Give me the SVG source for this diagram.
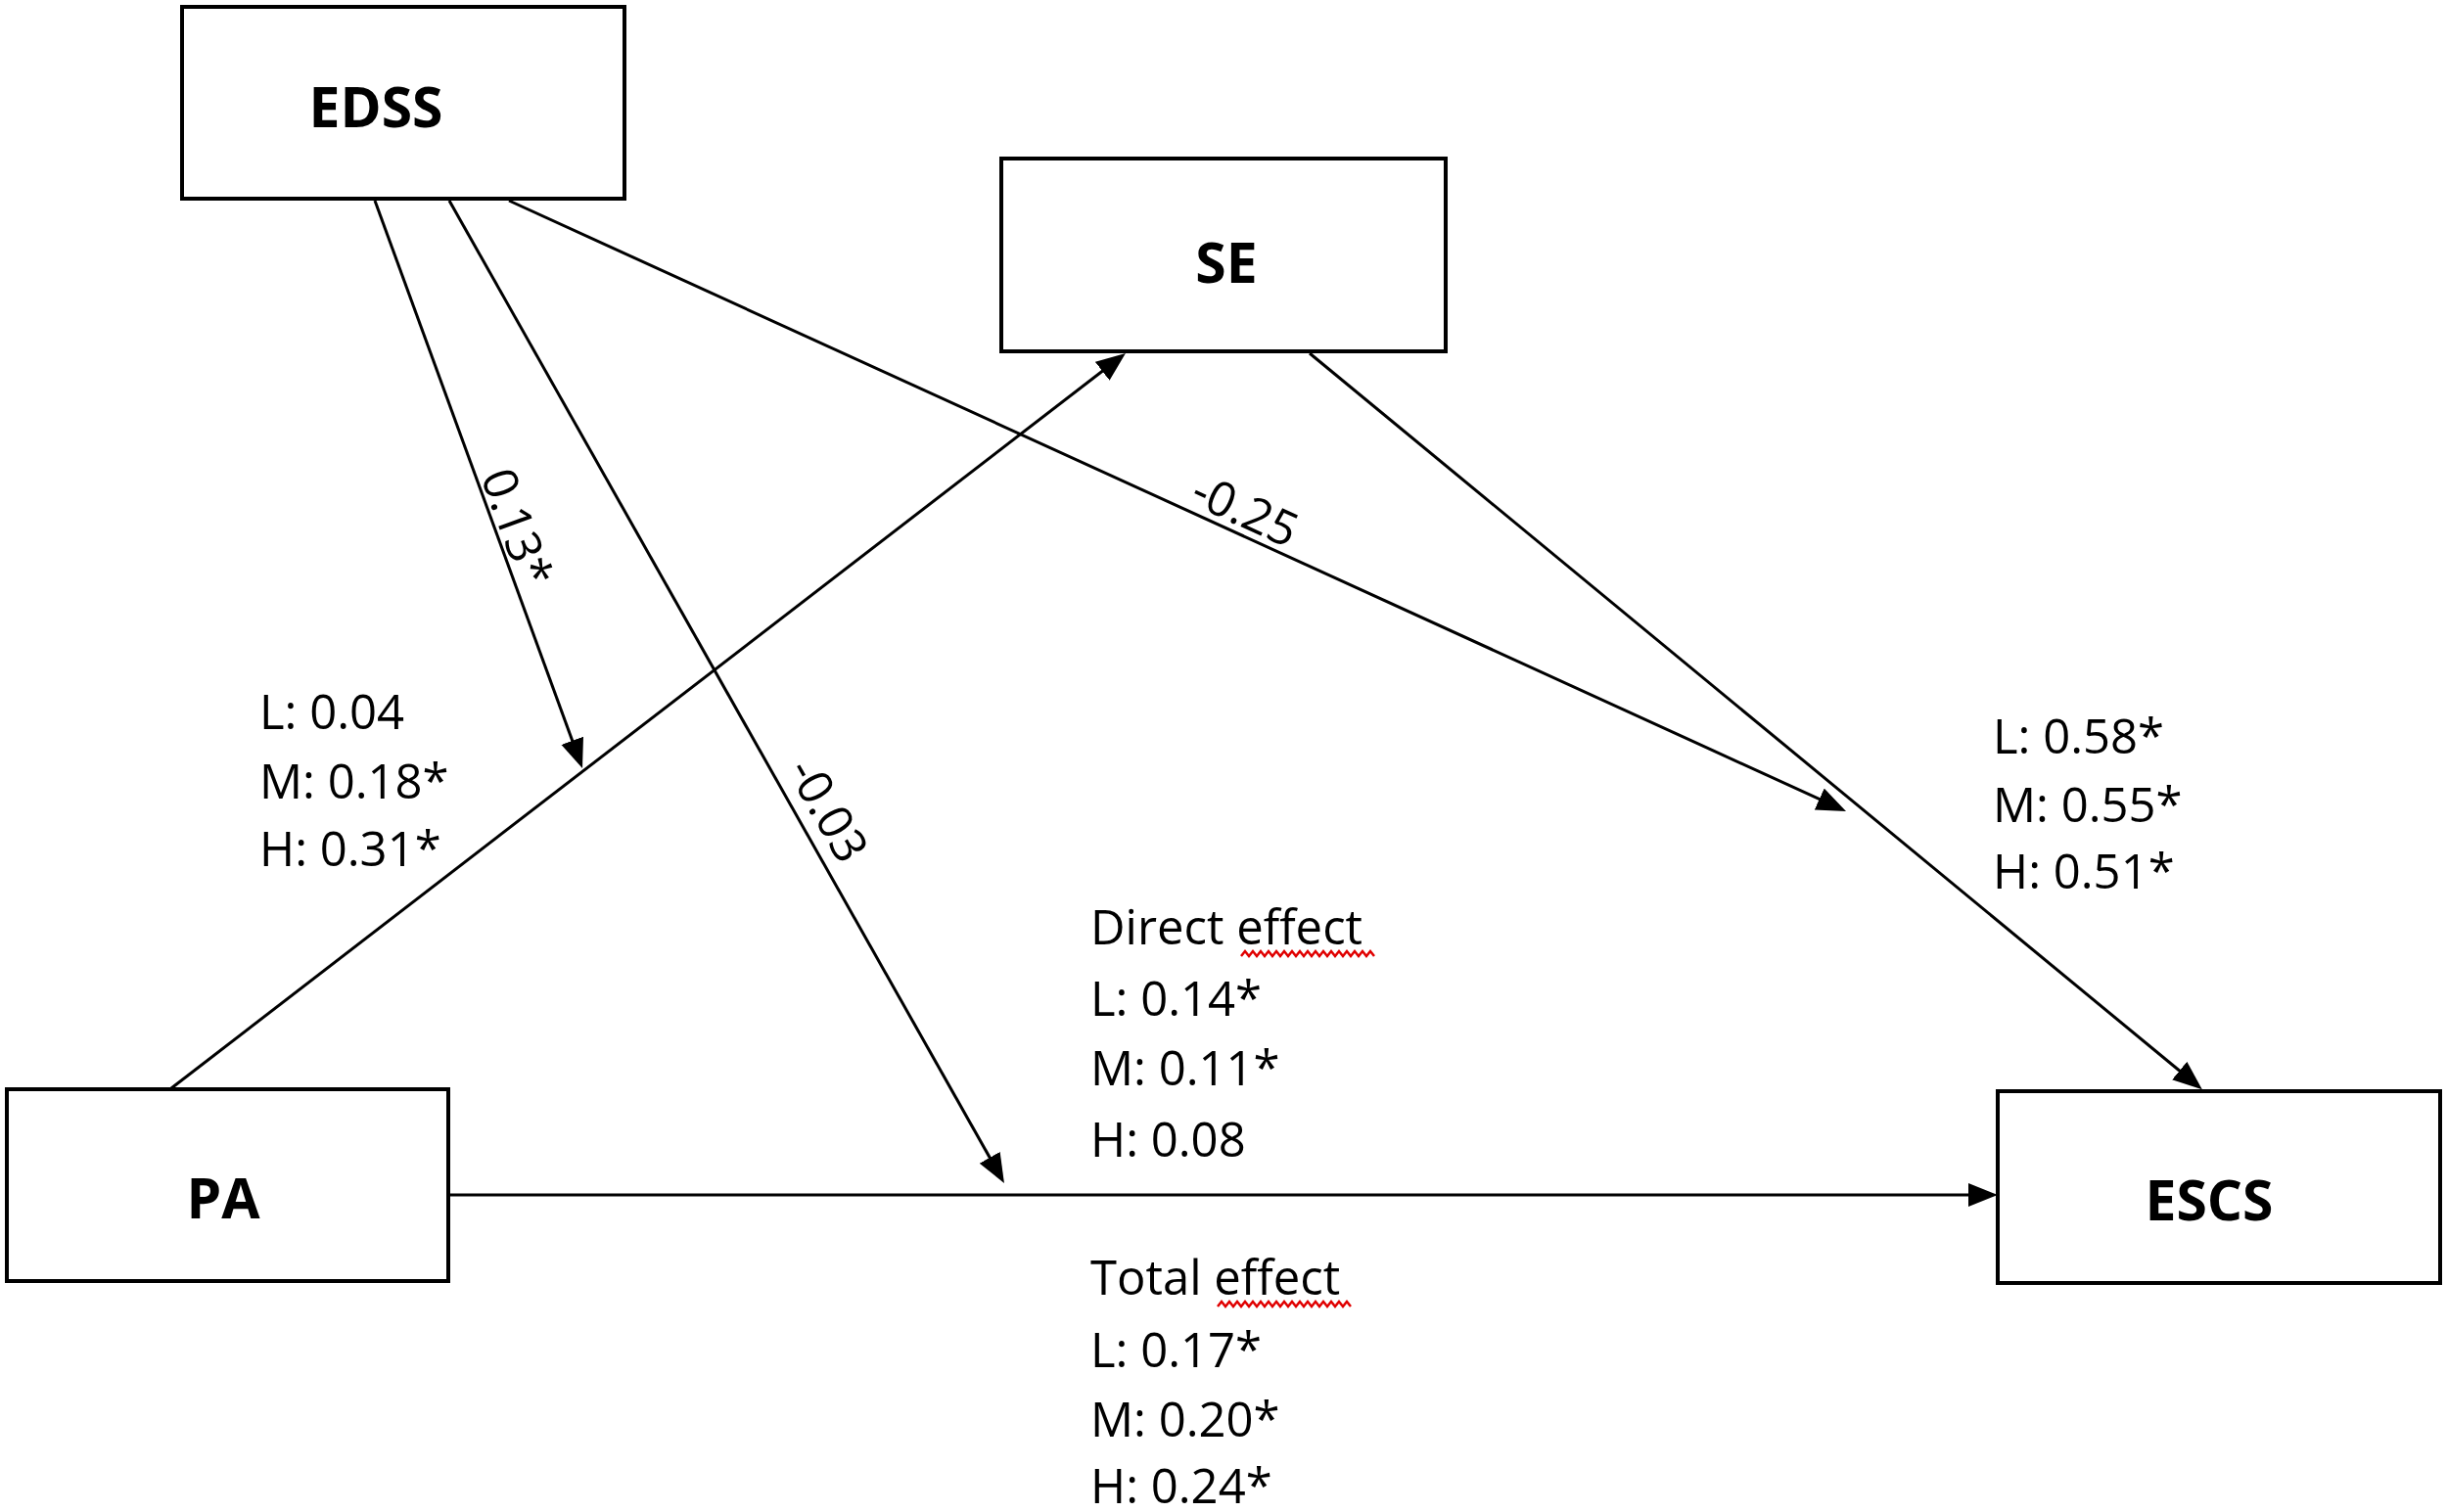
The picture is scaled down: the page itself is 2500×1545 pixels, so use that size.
<svg xmlns="http://www.w3.org/2000/svg" width="2500" height="1545" viewBox="0 0 2500 1545">
<style>
.box{fill:#fff;stroke:#000;stroke-width:4}
.nt{font-family:"Open Sans","Liberation Sans",sans-serif;font-weight:bold;font-size:57px;fill:#000;text-anchor:middle}
.lb{font-family:"Open Sans","Liberation Sans",sans-serif;font-size:49px;fill:#000}
.cn{stroke:#000;stroke-width:3;fill:none;marker-end:url(#ah)}
.sq{stroke:#e00000;stroke-width:2.5;fill:none}
</style>
<defs>
<marker id="ah" markerUnits="userSpaceOnUse" markerWidth="32" markerHeight="26" refX="25" refY="12" orient="auto">
<path d="M0,0 L30,12 L0,24 z" fill="#000"/>
</marker>
</defs>
<rect width="2500" height="1545" fill="#fff"/>
<g id="connectors">
<line class="cn" x1="458" y1="1221" x2="2036" y2="1221"/>
<line class="cn" x1="175" y1="1112" x2="1146" y2="364"/>
<line class="cn" x1="383" y1="205" x2="593.3" y2="780.3"/>
<line class="cn" x1="459" y1="205" x2="1023.5" y2="1204.6"/>
<line class="cn" x1="520" y1="205" x2="1881.5" y2="826.9"/>
<line class="cn" x1="1338" y1="361" x2="2246" y2="1110"/>
</g>
<g id="node-EDSS"><rect class="box" x="186" y="7" width="452" height="196"/><text class="nt" x="384" y="130">EDSS</text></g>
<g id="node-SE"><rect class="box" x="1023" y="162" width="454" height="197"/><text class="nt" x="1253" y="289">SE</text></g>
<g id="node-PA"><rect class="box" x="7" y="1113" width="451" height="196"/><text class="nt" x="228" y="1245">PA</text></g>
<g id="node-ESCS"><rect class="box" x="2041" y="1115" width="452" height="196"/><text class="nt" x="2257" y="1247">ESCS</text></g>
<g id="labels">
<text class="lb" x="512" y="545" text-anchor="middle" transform="rotate(70 512 545)">0.13*</text>
<text class="lb" x="1265" y="537" text-anchor="middle" transform="rotate(24.6 1265 537)">-0.25</text>
<text class="lb" x="831" y="836" text-anchor="middle" transform="rotate(60.6 831 836)">-0.03</text>
<text class="lb" x="265" y="745">L: 0.04</text>
<text class="lb" x="265" y="816">M: 0.18*</text>
<text class="lb" x="265" y="885">H: 0.31*</text>
<text class="lb" x="2036" y="770">L: 0.58*</text>
<text class="lb" x="2036" y="840">M: 0.55*</text>
<text class="lb" x="2036" y="908">H: 0.51*</text>
<text class="lb" x="1114" y="965">Direct effect</text>
<text class="lb" x="1114" y="1038">L: 0.14*</text>
<text class="lb" x="1114" y="1109">M: 0.11*</text>
<text class="lb" x="1114" y="1182">H: 0.08</text>
<text class="lb" x="1114" y="1323">Total effect</text>
<text class="lb" x="1114" y="1397">L: 0.17*</text>
<text class="lb" x="1114" y="1468">M: 0.20*</text>
<text class="lb" x="1114" y="1536">H: 0.24*</text>
<path class="sq" d="M1268,977 l4,-5 4,5 4,-5 4,5 4,-5 4,5 4,-5 4,5 4,-5 4,5 4,-5 4,5 4,-5 4,5 4,-5 4,5 4,-5 4,5 4,-5 4,5 4,-5 4,5 4,-5 4,5 4,-5 4,5 4,-5 4,5 4,-5 4,5 4,-5 4,5 4,-5 4,5"/>
<path class="sq" d="M1244,1335 l4,-5 4,5 4,-5 4,5 4,-5 4,5 4,-5 4,5 4,-5 4,5 4,-5 4,5 4,-5 4,5 4,-5 4,5 4,-5 4,5 4,-5 4,5 4,-5 4,5 4,-5 4,5 4,-5 4,5 4,-5 4,5 4,-5 4,5 4,-5 4,5 4,-5 4,5"/>
</g>
</svg>
